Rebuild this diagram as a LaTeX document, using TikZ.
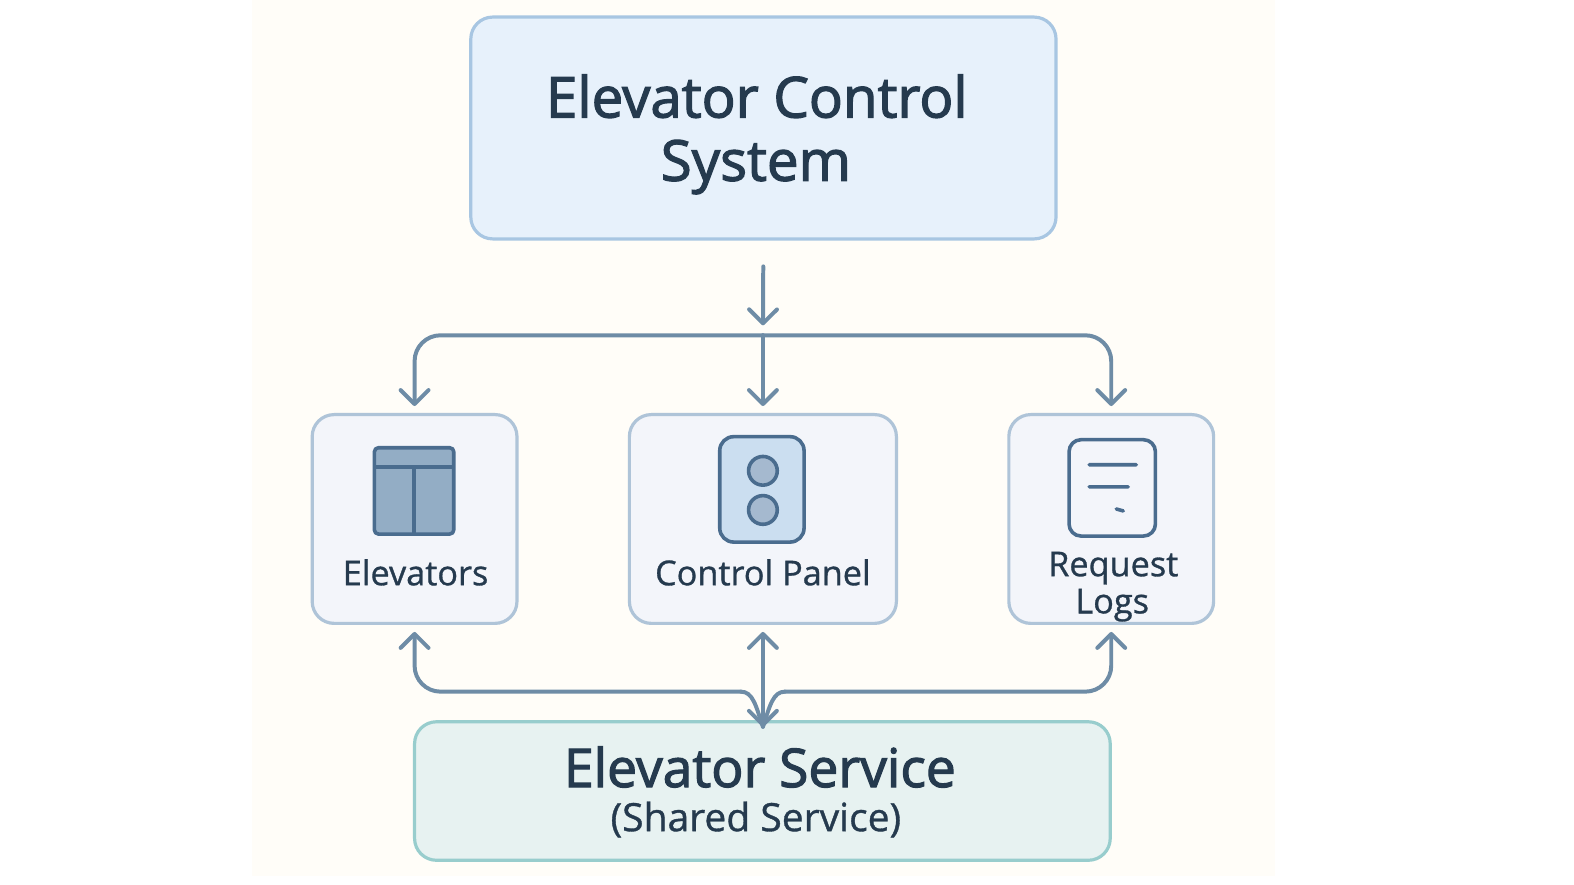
\documentclass[tikz,border=0pt]{standalone}
\usepackage{fontspec}
\setmainfont{Open Sans}
\newfontfamily\headfont[FakeBold=2.2]{Open Sans}
\newfontfamily\bodyfont[FakeBold=0.9]{Open Sans}
\usetikzlibrary{arrows.meta}
\definecolor{paper}{HTML}{FFFDF8}
\definecolor{ink}{HTML}{253A4E}
\definecolor{flowcol}{HTML}{6E8CA6}
\definecolor{icondark}{HTML}{4A6C8E}
\definecolor{iconmid}{HTML}{93ADC5}
\definecolor{iconlight}{HTML}{CBDEF0}
\definecolor{iconsoft}{HTML}{A5B9CF}
\tikzset{
 flow/.style={draw=flowcol,line width=2pt,line cap=round,line join=round},
 lbl/.style={text=ink,font=\bodyfont\fontsize{17.2}{18}\selectfont,anchor=base,inner sep=0pt},
 icon/.style={draw=icondark,line width=1.8pt,line join=round}
}
\begin{document}
\begin{tikzpicture}[x=0.502bp,y=-0.502bp,>={Straight Barb[length=7pt,width=14pt,round]}]
\useasboundingbox (0,0) rectangle (1568,881.5);
\fill[white] (0,0) rectangle (1568,881.5);
\fill[paper] (251,0) rectangle (1270,873);
% boxes
\foreach \ten/\xa/\ya/\xb/\yb/\nen/\vien in {
 sys/469/17/1052/238/E7F1FB/A8C6E2,
 elev/311/413/515/621/F3F5FA/AFC4D8,
 panel/627/413/893/621/F3F5FA/AFC4D8,
 logs/1005/413/1209/621/F3F5FA/AFC4D8,
 svc/413/719/1106/857/E7F2F1/98CDCD}{
\definecolor{nen}{HTML}{\nen}\definecolor{vien}{HTML}{\vien}
\node[draw=vien,fill=nen,line width=1.6pt,rounded corners=11pt,inner sep=0pt,
 minimum width={(\xb-\xa)*0.502bp},minimum height={(\yb-\ya)*0.502bp}]
 (\ten) at ({(\xa+\xb)/2},{(\ya+\yb)/2}) {};
}
% labels
\node[lbl,font=\headfont\fontsize{28.3}{30}\selectfont] (t1) at (754,117) {Elevator Control};
\node[lbl,font=\headfont\fontsize{28.3}{30}\selectfont] (t2) at (753,180) {System};
\node[lbl] (t3) at (414,583) {Elevators};
\node[lbl] (t4) at (760,583) {Control Panel};
\node[lbl] (t5) at (1109,574) {Request};
\node[lbl] (t6) at (1108,611) {Logs};
\node[lbl,font=\headfont\fontsize{26.8}{28}\selectfont] (t7) at (757,784) {Elevator Service};
\node[lbl,font=\bodyfont\fontsize{19.6}{20}\selectfont] (t8) at (753,828) {(Shared Service)};
% icons
\draw[icon,fill=iconmid,rounded corners=2pt] (373,446) rectangle (452,532);
\draw[icon] (373,465)--(452,465) (412.5,465)--(412.5,532);
\draw[icon,fill=iconlight,rounded corners=7pt] (717,435) rectangle (801,540);
\foreach \y in {469,508}{\draw[icon,fill=iconsoft] (760,\y) circle (7.2pt);}
\draw[icon,rounded corners=6pt] (1065,438) rectangle (1151,534);
\draw[icon,line cap=round] (1085,463)--(1132,463) (1085,485)--(1124,485) (1112,507)--(1119,509);
% connectors
\coordinate (junction) at (760,334);
\coordinate (svcin) at (760,724);
\coordinate (busl) at (738,689);
\coordinate (busr) at (782,689);
\draw[flow,->,shorten <=13pt,shorten >=5pt] (sys.south)--(junction);
\draw[flow,->,shorten >=3.5pt] (junction)--(panel.north);
\draw[flow,->,rounded corners=13pt,shorten >=3.5pt] (junction)-|(elev.north);
\draw[flow,->,rounded corners=13pt,shorten >=3.5pt] (junction)-|(logs.north);
\draw[flow,<->,shorten <=3.5pt] (panel.south)--(svcin);
\draw[flow,<-,shorten <=3.5pt,rounded corners=13pt] (elev.south)|-(busl);
\draw[flow,<-,shorten <=3.5pt,rounded corners=13pt] (logs.south)|-(busr);
\draw[flow] (busl).. controls (750,689) and (753,703) ..(svcin);
\draw[flow] (busr).. controls (770,689) and (767,703) ..(svcin);
\end{tikzpicture}
\end{document}
